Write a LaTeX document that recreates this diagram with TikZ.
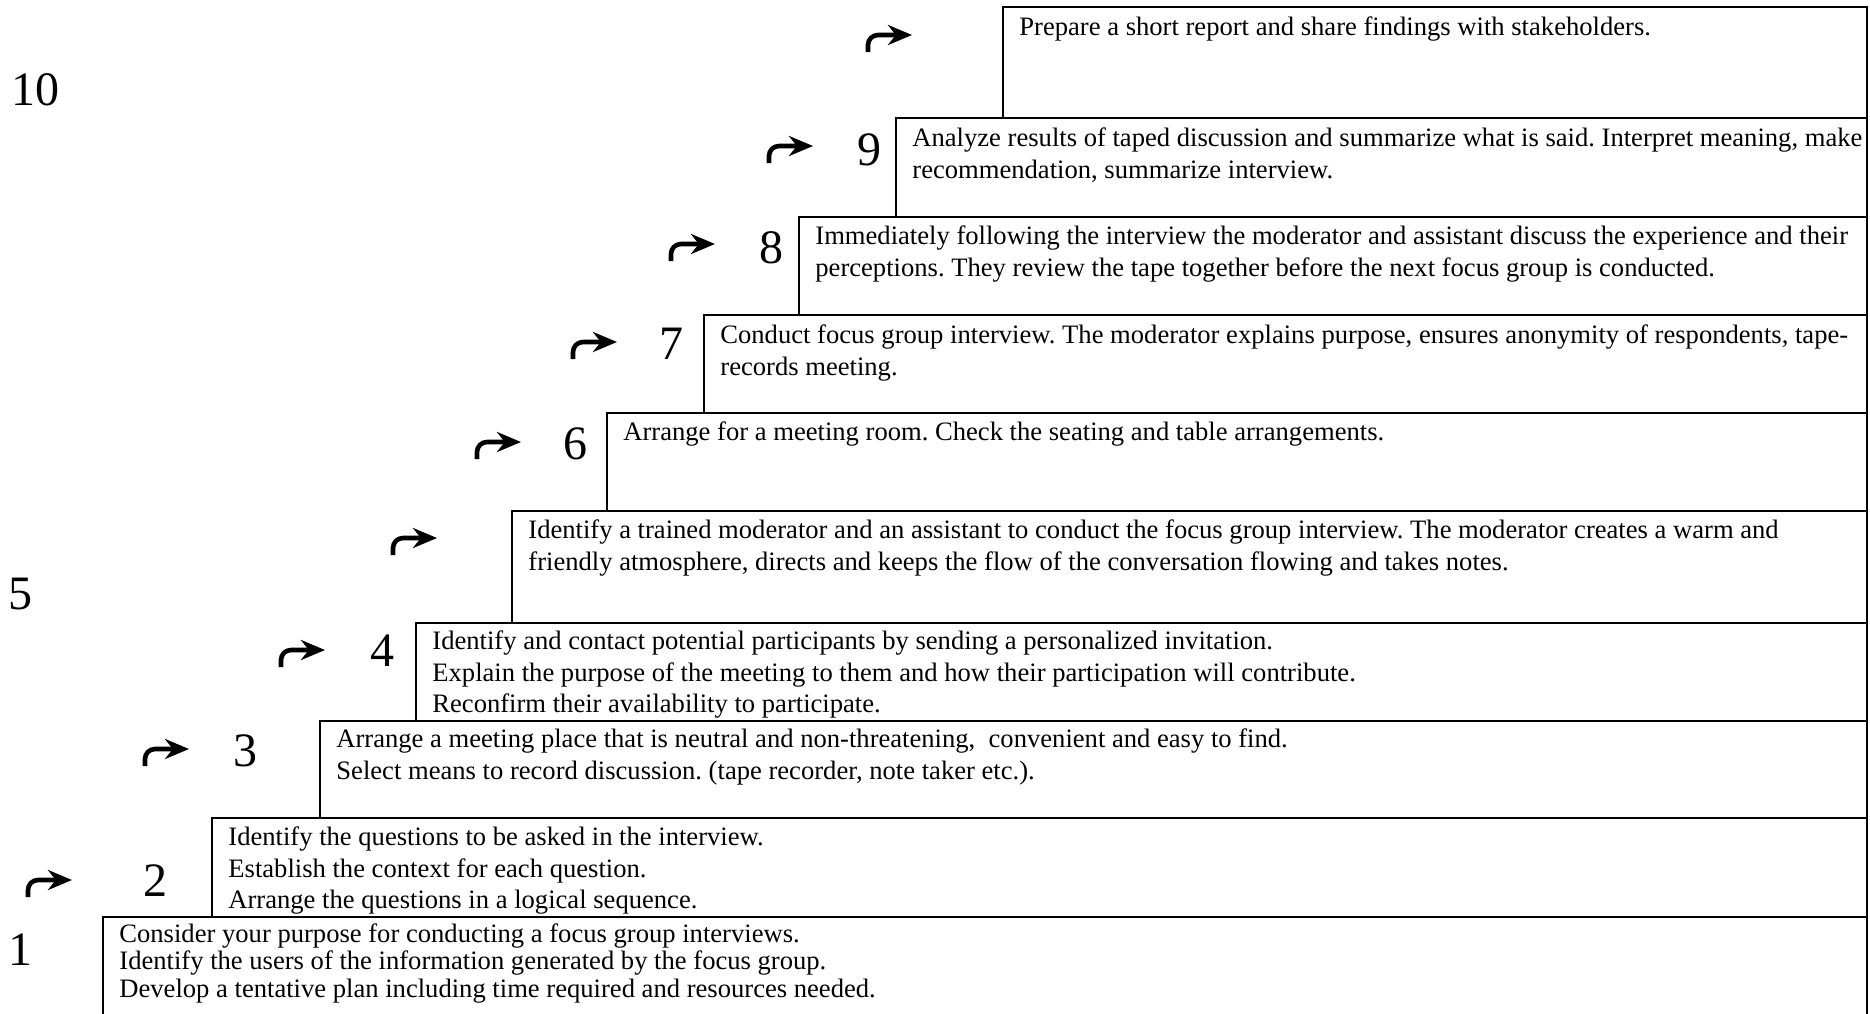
\documentclass[tikz,border=0pt]{standalone}
\usepackage{fontspec}
\setmainfont{Liberation Serif}
\usetikzlibrary{arrows.meta}
\frenchspacing

\begin{document}
\begin{tikzpicture}[x=0.5pt,y=-0.5pt,
  stepframe/.style={draw=black,line width=0.9pt},
  steptext/.style={anchor=north west,inner sep=0pt,align=left,font=\fontsize{13.3}{15.8}\selectfont},
  stepnum/.style={inner sep=0pt,font=\fontsize{24}{28}\selectfont},
  turnarrow/.style={line width=2.3pt,rounded corners=5pt,-{Stealth[length=12pt,width=10pt]}}]
  \useasboundingbox (0,0) rectangle (1870,1013);

  % Frames, lowest step first
  \draw[stepframe] (103,917) rectangle (1867,1020);
  \draw[stepframe] (212,818) rectangle (1867,917);
  \draw[stepframe] (320,721) rectangle (1867,818);
  \draw[stepframe] (416,623) rectangle (1867,721);
  \draw[stepframe] (512,511) rectangle (1867,623);
  \draw[stepframe] (607,413) rectangle (1867,511);
  \draw[stepframe] (704,315) rectangle (1867,413);
  \draw[stepframe] (799,217) rectangle (1867,315);
  \draw[stepframe] (896,118) rectangle (1867,217);
  \draw[stepframe] (1003,7) rectangle (1867,118);

  % Step texts
  \node[steptext,font=\fontsize{13.3}{13.7}\selectfont] (s1) at (119,923) {\strut Consider your purpose for conducting a focus group interviews.\\
    Identify the users of the information generated by the focus group.\\
    Develop a tentative plan including time required and resources needed.};
  \node[steptext] (s2) at (228,823) {\strut Identify the questions to be asked in the interview.\\
    Establish the context for each question.\\
    Arrange the questions in a logical sequence.};
  \node[steptext] (s3) at (336,725) {\strut Arrange a meeting place that is neutral and non-threatening,~ convenient and easy to find.\\
    Select means to record discussion. (tape recorder, note taker etc.).};
  \node[steptext] (s4) at (432,627) {\strut Identify and contact potential participants by sending a personalized invitation.\\
    Explain the purpose of the meeting to them and how their participation will contribute.\\
    Reconfirm their availability to participate.};
  \node[steptext] (s5) at (528,516) {\strut Identify a trained moderator and an assistant to conduct the focus group interview. The moderator creates a warm and\\
    friendly atmosphere, directs and keeps the flow of the conversation flowing and takes notes.};
  \node[steptext] (s6) at (623,418) {\strut Arrange for a meeting room. Check the seating and table arrangements.};
  \node[steptext] (s7) at (720,321) {\strut Conduct focus group interview. The moderator explains purpose, ensures anonymity of respondents, tape-\\
    records meeting.};
  \node[steptext] (s8) at (815,222) {\strut Immediately following the interview the moderator and assistant discuss the experience and their\\
    perceptions. They review the tape together before the next focus group is conducted.};
  \node[steptext] (s9) at (912,124) {\strut Analyze results of taped discussion and summarize what is said. Interpret meaning, make\\
    recommendation, summarize interview.};
  \node[steptext] (s10) at (1019,13) {\strut Prepare a short report and share findings with stakeholders.};

  % Step numbers
  \node[stepnum] (n1) at (21,950) {1};
  \node[stepnum] (n2) at (155,881) {2};
  \node[stepnum] (n3) at (245,751) {3};
  \node[stepnum] (n4) at (382,651) {4};
  \node[stepnum] (n5) at (21,594) {5};
  \node[stepnum] (n6) at (575,444) {6};
  \node[stepnum] (n7) at (671,344) {7};
  \node[stepnum] (n8) at (771,248) {8};
  \node[stepnum] (n9) at (869,150) {9};
  \node[stepnum] (n10) at (35,90) {10};

  % Turn arrows
  \draw[turnarrow] (28,897) |- (72,880);
  \draw[turnarrow] (145,766) |- (189,749);
  \draw[turnarrow] (281,667) |- (325,650);
  \draw[turnarrow] (393,555) |- (437,538);
  \draw[turnarrow] (477,459) |- (521,442);
  \draw[turnarrow] (573,359) |- (617,342);
  \draw[turnarrow] (671,261) |- (715,244);
  \draw[turnarrow] (769,163) |- (813,146);
  \draw[turnarrow] (868,52) |- (912,35);
\end{tikzpicture}
\end{document}
